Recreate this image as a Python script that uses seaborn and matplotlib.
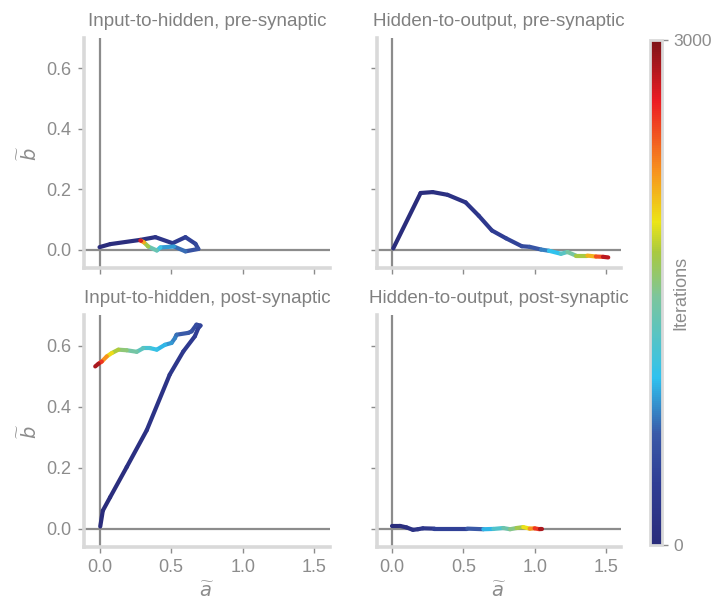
import matplotlib
matplotlib.use("Agg")
import matplotlib.pyplot as plt
import seaborn as sns
from matplotlib.collections import LineCollection
from matplotlib.colors import LinearSegmentedColormap, Normalize

# Trajectories (a~, b~) with the training iteration at each waypoint
ih_pre_a = [0.0, 0.075, 0.285, 0.39, 0.51, 0.60, 0.67, 0.69, 0.60, 0.52, 0.425, 0.40, 0.34, 0.31, 0.29, 0.285]
ih_pre_b = [0.009, 0.019, 0.033, 0.042, 0.022, 0.042, 0.020, 0.003, -0.005, 0.011, 0.008, -0.002, 0.011, 0.025, 0.030, 0.031]
ih_pre_it = [0, 20, 80, 150, 250, 350, 450, 520, 650, 800, 950, 1200, 1500, 1900, 2400, 3000]

ho_pre_a = [0.007, 0.199, 0.284, 0.388, 0.515, 0.607, 0.70, 0.80, 0.91, 0.965, 1.046, 1.10, 1.185, 1.23, 1.29, 1.37, 1.43, 1.48, 1.517]
ho_pre_b = [0.005, 0.188, 0.191, 0.182, 0.157, 0.113, 0.064, 0.038, 0.012, 0.010, 0.001, -0.003, -0.013, -0.007, -0.019, -0.019, -0.022, -0.023, -0.025]
ho_pre_it = [0, 40, 70, 110, 170, 230, 300, 380, 480, 540, 700, 850, 1150, 1350, 1550, 1900, 2300, 2600, 3000]

ih_post_a = [0.005, 0.023, 0.074, 0.19, 0.33, 0.49, 0.585, 0.666, 0.69, 0.705, 0.677, 0.643, 0.62, 0.538, 0.527,
             0.503, 0.457, 0.40, 0.353, 0.306, 0.26, 0.19, 0.132, 0.086, 0.051, 0.016, -0.007, -0.03]
ih_post_b = [0.007, 0.059, 0.103, 0.202, 0.323, 0.505, 0.581, 0.631, 0.658, 0.666, 0.669, 0.647, 0.642, 0.636, 0.625,
             0.609, 0.603, 0.587, 0.592, 0.592, 0.580, 0.585, 0.587, 0.576, 0.565, 0.548, 0.541, 0.532]
ih_post_it = [0, 10, 30, 70, 120, 200, 260, 320, 380, 430, 480, 560, 620, 700, 760,
              820, 900, 1000, 1100, 1200, 1350, 1500, 1650, 1850, 2050, 2400, 2700, 3000]

ho_post_a = [0.0, 0.053, 0.10, 0.145, 0.18, 0.215, 0.296, 0.527, 0.64, 0.71, 0.78, 0.827, 0.873, 0.92, 0.965, 1.0, 1.035, 1.053]
ho_post_b = [0.009, 0.009, 0.004, -0.004, -0.002, 0.001, 0.0, 0.0, -0.002, -0.001, 0.002, -0.002, 0.002, 0.005, 0.0, 0.001, -0.002, -0.002]
ho_post_it = [0, 40, 80, 130, 170, 210, 280, 500, 800, 1100, 1300, 1450, 1600, 1800, 2050, 2400, 2700, 3000]

titles = ["Input-to-hidden, pre-synaptic", "Hidden-to-output, pre-synaptic",
          "Input-to-hidden, post-synaptic", "Hidden-to-output, post-synaptic"]
panels = [(ih_pre_a, ih_pre_b, ih_pre_it), (ho_pre_a, ho_pre_b, ho_pre_it),
          (ih_post_a, ih_post_b, ih_post_it), (ho_post_a, ho_post_b, ho_post_it)]
x_ticks = [0.0, 0.5, 1.0, 1.5]
y_ticks = [0.0, 0.2, 0.4, 0.6]
max_iter = 3000

GRAY = "#8c8c8c"
SPINE = "#d9d9d9"

sns.set_theme(style="white")
plt.rcParams['font.family'] = ['Liberation Sans', 'DejaVu Sans']
plt.rcParams['mathtext.fontset'] = 'dejavusans'

cmap = LinearSegmentedColormap.from_list("iters", [
    (0.0, "#2a2c7b"), (0.12, "#2f3d94"), (0.22, "#3a5aa8"), (0.33, "#2ec2ef"),
    (0.49, "#7cc59c"), (0.58, "#a9c93f"), (0.64, "#ece517"), (0.74, "#f7931d"),
    (0.88, "#ec1c24"), (1.0, "#7e1418")])
norm = Normalize(0, max_iter)

fig = plt.figure(figsize=(7.16, 6.05), dpi=100)
boxes = [[0.117, 0.557, 0.344, 0.380], [0.526, 0.557, 0.342, 0.380],
         [0.117, 0.096, 0.344, 0.383], [0.526, 0.096, 0.342, 0.383]]

for i, (box, (a, b, it), title) in enumerate(zip(boxes, panels, titles)):
    ax = fig.add_axes(box)
    ax.axhline(0, color=GRAY, lw=1.6, zorder=1)
    ax.axvline(0, color=GRAY, lw=1.6, zorder=1)
    pts = list(zip(a, b))
    segs = [[pts[k], pts[k + 1]] for k in range(len(pts) - 1)]
    seg_it = [(it[k] + it[k + 1]) / 2 for k in range(len(it) - 1)]
    lc = LineCollection(segs, cmap=cmap, norm=norm, linewidths=3.0,
                        capstyle="round", joinstyle="round", zorder=3)
    lc.set_array(seg_it)
    ax.add_collection(lc)

    ax.set_xlim(-0.11, 1.61)
    ax.set_ylim(-0.06, 0.70)
    ax.set_xticks(x_ticks)
    ax.set_yticks(y_ticks)
    ax.set_xticklabels([f"{t:.1f}" for t in x_ticks] if i >= 2 else [])
    ax.set_yticklabels([f"{t:.1f}" for t in y_ticks] if i % 2 == 0 else [])
    sns.despine(ax=ax)
    for s in ["left", "bottom"]:
        ax.spines[s].set_color(SPINE)
        ax.spines[s].set_linewidth(2.6)
    ax.tick_params(axis="both", which="both", direction="out", length=4, width=1, pad=5,
                   color=GRAY, labelcolor=GRAY, labelsize=13, bottom=True, left=True)
    ax.set_title(title, color="#808080", fontsize=13.5, pad=9)
    if i >= 2:
        ax.set_xlabel(r"$\widetilde{a}$", color=GRAY, fontsize=14)
    if i % 2 == 0:
        ax.set_ylabel(r"$\widetilde{b}$", color=GRAY, fontsize=14)

cax = fig.add_axes([0.908, 0.099, 0.017, 0.835])
sm = plt.cm.ScalarMappable(cmap=cmap, norm=norm)
cb = fig.colorbar(sm, cax=cax, ticks=[0, max_iter])
cb.outline.set_edgecolor(SPINE)
cb.outline.set_linewidth(2.0)
cb.ax.tick_params(length=4, width=1, pad=4, color=GRAY, labelcolor=GRAY, labelsize=12.5)
fig.text(0.951, 0.516, "Iterations", rotation=90, ha="center", va="center",
         color=GRAY, fontsize=13)

fig.savefig("out.png", dpi=100)
